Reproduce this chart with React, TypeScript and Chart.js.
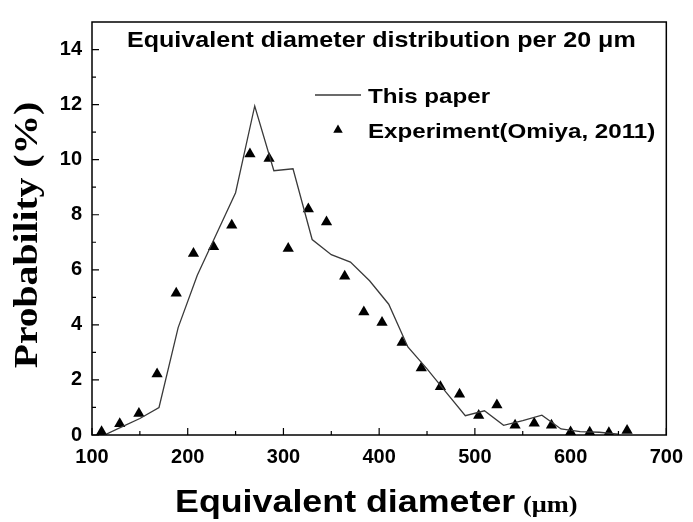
import React, { useEffect, useRef } from 'react';
import { Chart, registerables } from 'chart.js';

Chart.register(...registerables);

// Experimental points (Omiya, 2011)
const expX = [110, 129, 149, 168, 188, 206, 227, 246, 265, 285, 305, 326, 345, 364, 384, 403, 424, 444, 464, 484, 504, 523, 542, 562, 580, 600, 620, 640, 659];
const expY = [0.12, 0.41, 0.78, 2.22, 5.15, 6.59, 6.84, 7.62, 10.21, 10.04, 6.77, 8.21, 7.74, 5.77, 4.47, 4.09, 3.36, 2.43, 1.75, 1.48, 0.71, 1.09, 0.35, 0.43, 0.35, 0.11, 0.1, 0.08, 0.16];

// Model curve (This paper)
const modelX = [113, 130, 150, 170, 190, 210, 230, 250, 270, 290, 310, 330, 350, 370, 390, 410, 430, 450, 470, 490, 510, 530, 550, 570, 590, 610, 630, 650];
const modelY = [0.0, 0.28, 0.6, 1.0, 3.9, 5.8, 7.3, 8.8, 11.95, 9.6, 9.67, 7.1, 6.55, 6.28, 5.6, 4.75, 3.2, 2.4, 1.55, 0.7, 0.88, 0.35, 0.52, 0.72, 0.22, 0.12, 0.1, 0.03];

const xMin = 100;
const xMax = 700;
const xStep = 100;
const yMin = 0;
const yMax = 15;
const yStep = 2;

const titleText = 'Equivalent diameter distribution per 20 \u03bcm';
const legendModel = 'This paper';
const legendExp = 'Experiment(Omiya, 2011)';
const xTitleMain = 'Equivalent diameter';
const xTitleUnit = '(\u03bcm)';
const yTitle = 'Probability (%)';

const SANS = '"Liberation Sans", Arial, sans-serif';
const SERIF = '"Liberation Serif", "Times New Roman", serif';

function drawText(
  ctx: CanvasRenderingContext2D,
  text: string,
  x: number,
  y: number,
  font: string,
  sx: number,
  sy: number,
  align: CanvasTextAlign = 'left',
  rot = 0
) {
  ctx.save();
  ctx.translate(x, y);
  if (rot) ctx.rotate(rot);
  ctx.scale(sx, sy);
  ctx.font = font;
  ctx.fillStyle = '#000';
  ctx.textAlign = align;
  ctx.textBaseline = 'alphabetic';
  ctx.fillText(text, 0, 0);
  ctx.restore();
}

const decorPlugin = {
  id: 'decor',
  afterDraw(chart: any) {
    const ctx: CanvasRenderingContext2D = chart.ctx;
    const { left, right, top, bottom } = chart.chartArea;
    const xs = chart.scales.x;
    const ys = chart.scales.y;
    ctx.save();
    // frame
    ctx.strokeStyle = '#000';
    ctx.lineWidth = 1.5;
    ctx.strokeRect(left, top, right - left, bottom - top);
    // inward ticks
    ctx.lineWidth = 1.2;
    ctx.beginPath();
    xs.ticks.forEach((t: any, i: number) => {
      const px = xs.getPixelForValue(t.value);
      ctx.moveTo(px, bottom);
      ctx.lineTo(px, bottom - 7);
      if (i < xs.ticks.length - 1) {
        const mx = xs.getPixelForValue((t.value + xs.ticks[i + 1].value) / 2);
        ctx.moveTo(mx, bottom);
        ctx.lineTo(mx, bottom - 4);
      }
    });
    ys.ticks.forEach((t: any) => {
      const py = ys.getPixelForValue(t.value);
      ctx.moveTo(left, py);
      ctx.lineTo(left + 7, py);
      const mv = t.value + yStep / 2;
      if (mv < yMax) {
        const my = ys.getPixelForValue(mv);
        ctx.moveTo(left, my);
        ctx.lineTo(left + 4, my);
      }
    });
    ctx.stroke();

    // in-plot title
    drawText(ctx, titleText, 127, 47, `bold 22px ${SANS}`, 1.14, 1);

    // legend
    ctx.strokeStyle = '#3a3a3a';
    ctx.lineWidth = 1.3;
    ctx.beginPath();
    ctx.moveTo(315, 95);
    ctx.lineTo(361, 95);
    ctx.stroke();
    drawText(ctx, legendModel, 368, 102.5, `bold 21px ${SANS}`, 1.15, 1);
    const tx = 338, ty = 130, tr = 5.5;
    ctx.fillStyle = '#000';
    ctx.beginPath();
    ctx.moveTo(tx, ty - tr);
    ctx.lineTo(tx + tr * 0.866, ty + tr * 0.5);
    ctx.lineTo(tx - tr * 0.866, ty + tr * 0.5);
    ctx.closePath();
    ctx.fill();
    drawText(ctx, legendExp, 368, 137.5, `bold 21px ${SANS}`, 1.15, 1);

    // axis titles
    drawText(ctx, xTitleMain, 175, 512, `bold 31px ${SANS}`, 1.155, 1);
    drawText(ctx, xTitleUnit, 523, 512, `bold 24px ${SERIF}`, 1.1, 1);
    drawText(ctx, yTitle, 37, 235, `bold 33px ${SERIF}`, 1.2, 1, 'center', -Math.PI / 2);
    ctx.restore();
  },
};

export default function App() {
  const ref = useRef<HTMLCanvasElement>(null);
  useEffect(() => {
    if (!ref.current) return;
    const expData = expX.map((x, i) => ({ x, y: expY[i] }));
    const modelData = modelX.map((x, i) => ({ x, y: modelY[i] }));
    const chart = new Chart(ref.current, {
      type: 'scatter',
      data: {
        datasets: [
          {
            label: legendModel,
            data: modelData,
            showLine: true,
            borderColor: '#3a3a3a',
            borderWidth: 1.3,
            pointRadius: 0,
            pointHoverRadius: 0,
            fill: false,
            tension: 0,
          },
          {
            label: legendExp,
            data: expData,
            showLine: false,
            pointStyle: 'triangle',
            pointRadius: 6.5,
            backgroundColor: '#000',
            borderColor: '#000',
            borderWidth: 0,
          },
        ],
      },
      options: {
        animation: false,
        responsive: false,
        devicePixelRatio: 1,
        layout: { padding: { top: 8, right: 23, left: 0, bottom: 0 } },
        plugins: {
          legend: { display: false },
          tooltip: { enabled: false },
          title: { display: false },
        },
        scales: {
          x: {
            type: 'linear',
            min: xMin,
            max: xMax,
            grid: { display: false, drawTicks: false },
            border: { display: false },
            ticks: {
              stepSize: xStep,
              padding: 10,
              color: '#000',
              font: { family: SANS, size: 20, weight: 'bold' },
              maxRotation: 0,
            },
            afterFit: (s: any) => {
              s.height = 87;
            },
          },
          y: {
            type: 'linear',
            min: yMin,
            max: yMax,
            grid: { display: false, drawTicks: false },
            border: { display: false },
            ticks: {
              stepSize: yStep,
              includeBounds: false,
              padding: 10,
              color: '#000',
              font: { family: SANS, size: 20, weight: 'bold' },
            },
            afterFit: (s: any) => {
              s.width = 92;
            },
          },
        },
      },
      plugins: [decorPlugin],
    });
    return () => chart.destroy();
  }, []);
  return (
    <div style={{ position: 'fixed', left: 0, top: 0, width: 693, height: 522, background: '#fff' }}>
      <canvas ref={ref} width={693} height={522} style={{ display: 'block' }} />
    </div>
  );
}
